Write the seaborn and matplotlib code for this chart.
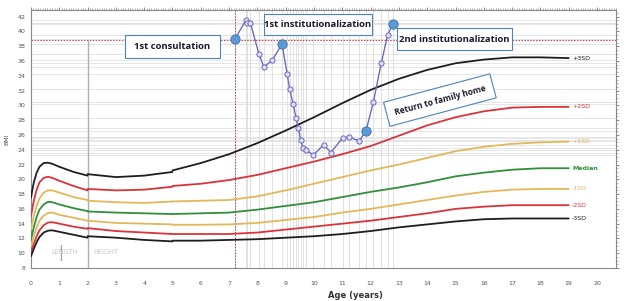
import numpy as np
import pandas as pd
import seaborn as sns
import matplotlib.pyplot as plt
from matplotlib.patches import Rectangle
from matplotlib.ticker import MultipleLocator

# reference curves (age in years); a new segment starts at 2 (length -> height) and at 5
AGES = [0, 0.05, 0.1, 0.2, 0.3, 0.45, 0.6, 0.75, 1, 1.5, 2,
        2, 3, 4, 5,
        5, 6, 7, 8, 9, 10, 11, 12, 13, 14, 15, 16, 17, 18, 19]
SEGMENT = [0] * 11 + [1] * 4 + [2] * 15

SD3_POS = [17.5, 18.6, 19.6, 20.9, 21.7, 22.2, 22.25, 22.1, 21.7, 21.0, 20.5,
           20.7, 20.3, 20.5, 21.0,
           21.2, 22.2, 23.4, 24.9, 26.6, 28.4, 30.3, 32.1, 33.6, 34.8, 35.7, 36.2, 36.5, 36.5, 36.4]
SD2_POS = [15.0, 16.1, 17.1, 18.6, 19.6, 20.2, 20.35, 20.2, 19.8, 19.1, 18.5,
           18.7, 18.5, 18.6, 19.0,
           19.1, 19.4, 19.9, 20.6, 21.5, 22.4, 23.4, 24.5, 25.9, 27.3, 28.4, 29.2, 29.7, 29.8, 29.8]
SD1_POS = [13.2, 14.1, 15.0, 16.4, 17.4, 18.2, 18.5, 18.5, 18.2, 17.6, 17.2,
           17.1, 16.9, 16.8, 17.0,
           17.0, 17.1, 17.2, 17.7, 18.5, 19.4, 20.3, 21.2, 22.0, 22.9, 23.8, 24.4, 24.8, 25.0, 25.1]
MEDIAN = [11.8, 12.7, 13.5, 14.9, 15.9, 16.6, 16.95, 16.9, 16.6, 16.1, 15.7,
          15.65, 15.5, 15.4, 15.3,
          15.3, 15.4, 15.5, 15.9, 16.4, 16.9, 17.6, 18.3, 18.9, 19.6, 20.4, 20.9, 21.3, 21.5, 21.5]
SD1_NEG = [10.9, 11.6, 12.3, 13.5, 14.4, 15.1, 15.45, 15.5, 15.2, 14.8, 14.4,
           14.4, 14.1, 14.0, 13.9,
           13.85, 13.85, 13.9, 14.1, 14.5, 14.9, 15.5, 16.0, 16.6, 17.2, 17.8, 18.3, 18.6, 18.7, 18.7]
SD2_NEG = [10.2, 10.7, 11.3, 12.3, 13.1, 13.8, 14.15, 14.2, 14.0, 13.6, 13.3,
           13.4, 13.0, 12.8, 12.6,
           12.6, 12.6, 12.6, 12.8, 13.2, 13.6, 14.0, 14.4, 14.9, 15.4, 16.0, 16.3, 16.5, 16.5, 16.5]
SD3_NEG = [9.6, 10.1, 10.6, 11.5, 12.2, 12.8, 13.05, 13.1, 12.9, 12.5, 12.1,
           12.3, 12.1, 11.8, 11.6,
           11.7, 11.7, 11.8, 11.9, 12.1, 12.3, 12.6, 13.0, 13.5, 13.9, 14.3, 14.6, 14.7, 14.7, 14.7]

CURVE_NAMES = ['+3SD', '+2SD', '+1SD', 'Median', '-1SD', '-2SD', '-3SD']
CURVE_VALUES = [SD3_POS, SD2_POS, SD1_POS, MEDIAN, SD1_NEG, SD2_NEG, SD3_NEG]
CURVE_COLORS = ['#1e1e1e', '#d9343a', '#e3b75a', '#2f8f3a', '#e3b75a', '#d9343a', '#1e1e1e']

# patient measurements
PATIENT_AGE = [7.21, 7.59, 7.65, 7.75, 8.05, 8.23, 8.52, 8.87, 9.05, 9.14, 9.26, 9.37, 9.45, 9.53,
               9.61, 9.70, 9.98, 10.35, 10.59, 11.01, 11.24, 11.60, 11.84, 12.10, 12.38, 12.60, 12.78]
PATIENT_BMI = [39.0, 41.5, 41.1, 41.2, 37.0, 35.2, 36.1, 38.3, 34.3, 32.2, 30.2, 28.3, 26.9, 25.3,
               24.2, 24.0, 23.3, 24.7, 23.6, 25.6, 25.7, 25.2, 26.6, 30.5, 35.8, 39.5, 41.0]
KEY_EVENT = [1, 0, 0, 0, 0, 0, 0, 1, 0, 0, 0, 0, 0, 0,
             0, 0, 0, 0, 0, 0, 0, 0, 1, 0, 0, 0, 1]

long = pd.concat([pd.DataFrame({'age': AGES, 'bmi': v, 'curve': n, 'segment': SEGMENT})
                  for n, v in zip(CURVE_NAMES, CURVE_VALUES)], ignore_index=True)
patient = pd.DataFrame({'age': PATIENT_AGE, 'bmi': PATIENT_BMI, 'key': KEY_EVENT})

sns.set_style('white')
plt.rcParams['font.family'] = ['DejaVu Sans']

fig = plt.figure(figsize=(6.26, 3.01), dpi=100)
ax = fig.add_axes([0.0495, 0.1096, 0.9345, 0.857])

# light grid lines through every patient measurement
for a in PATIENT_AGE:
    ax.axvline(a, color='#d4d4d4', lw=0.5, zorder=0)
for b in PATIENT_BMI:
    ax.axhline(b, color='#dcdcdc', lw=0.5, zorder=0)

# reference lines
first = patient.iloc[0]
ax.axhline(first['bmi'] - 0.15, color='#d9343a', lw=0.7, ls=(0, (1.5, 1.5)), zorder=1)
ax.axvline(first['age'], color='#d9343a', lw=0.7, ls=(0, (1.5, 1.5)), zorder=1)
ax.plot([2, 2], [8, first['bmi'] - 0.15], color='#b0b0b0', lw=1.0, zorder=1)

sns.lineplot(data=long, x='age', y='bmi', hue='curve', units='segment', estimator=None,
             palette=dict(zip(CURVE_NAMES, CURVE_COLORS)), sort=False, lw=1.3,
             legend=False, ax=ax, zorder=3)

for n, v, c in zip(CURVE_NAMES, CURVE_VALUES, CURVE_COLORS):
    ax.text(AGES[-1] + 0.12, v[-1], n, color=c, fontsize=4.5, va='center', ha='left',
            fontweight='bold' if n == 'Median' else 'normal')

# patient trajectory
sns.lineplot(data=patient, x='age', y='bmi', sort=False, color='#6b6bbd', lw=1.0, ax=ax, zorder=4)
sns.scatterplot(data=patient[patient['key'] == 0], x='age', y='bmi', s=14, color='#dcdcf2',
                edgecolor='#6b6bbd', linewidth=0.7, ax=ax, zorder=5)
sns.scatterplot(data=patient[patient['key'] == 1], x='age', y='bmi', s=45, color='#5b9bd5',
                edgecolor='#3f6fa8', linewidth=0.6, ax=ax, zorder=6)

# event boxes
boxes = [('1st consultation', 0.161, 0.814, 0.162, 0.089),
         ('1st institutionalization', 0.398, 0.903, 0.185, 0.081),
         ('2nd institutionalization', 0.626, 0.845, 0.196, 0.085)]
for label, x0, y0, w, h in boxes:
    ax.add_patch(Rectangle((x0, y0), w, h, transform=ax.transAxes, fc='white', ec='#4f81bd',
                           lw=0.8, zorder=7))
    ax.text(x0 + w / 2, y0 + h / 2, label, transform=ax.transAxes, ha='center', va='center',
            fontsize=6.8, fontweight='bold', color='#1a1a2e', family='Open Sans', zorder=8)
ax.text(0.699, 0.651, 'Return to family home', transform=ax.transAxes, ha='center', va='center',
        rotation=15, fontsize=6.0, fontweight='bold', color='#1a1a2e', family='Open Sans', zorder=8,
        bbox=dict(boxstyle='square,pad=0.95', fc='white', ec='#4f81bd', lw=0.8))

# length / height marker
ax.text(1.2, 10.2, 'LENGTH', color='#c8c8c8', fontsize=4.8, ha='center', va='center')
ax.text(2.65, 10.2, 'HEIGHT', color='#c8c8c8', fontsize=4.8, ha='center', va='center')
ax.plot([1.06, 1.06], [9.1, 11.1], color='#a8a8a8', lw=1.0)

ax.set_xlim(0, 20.67)
ax.set_ylim(8, 42.9)
ax.set_xticks(range(0, 21))
ax.set_yticks(range(8, 43, 2))
ax.xaxis.set_minor_locator(MultipleLocator(1 / 12))
ax.yaxis.set_minor_locator(MultipleLocator(0.5))
ax.tick_params(which='both', direction='out', top=True, right=True, color='#777777',
               labelsize=4.5, labelcolor='#555555')
ax.tick_params(which='major', length=2.5, width=0.6)
ax.tick_params(which='minor', length=1.5, width=0.4)
ax.tick_params(axis='x', pad=7)
ax.tick_params(axis='y', pad=1.5)
for s in ax.spines.values():
    s.set_color('#8a8a8a')
    s.set_linewidth(0.8)

ax.set_xlabel('Age (years)', fontsize=6, fontweight='bold', color='#333333', va='center')
ax.xaxis.set_label_coords(0.554, -0.105)
ax.set_ylabel('BMI', fontsize=4.5, color='#555555', labelpad=6)

fig.savefig('out.png', dpi=100)
